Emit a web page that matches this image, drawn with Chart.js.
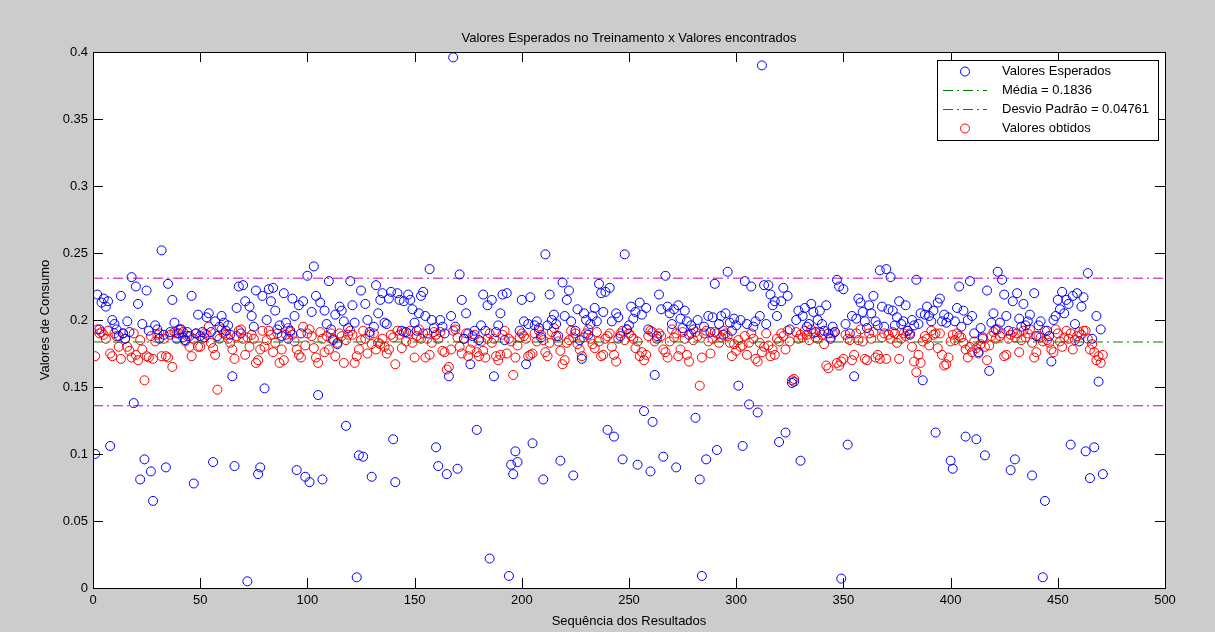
<!DOCTYPE html>
<html>
<head>
<meta charset="utf-8">
<script src="https://cdn.jsdelivr.net/npm/chart.js@4.4.1/dist/chart.umd.min.js"></script>
<style>
  html, body { margin: 0; padding: 0; background: #cccccc; }
  #wrap { width: 1215px; height: 632px; }
</style>
</head>
<body>
<div id="wrap"><canvas id="chart" width="1215" height="632"></canvas></div>
<script>
// valores (indice 1..471)
const esperados = [
  0.100, 0.219, 0.193, 0.213, 0.216, 0.210, 0.214, 0.106, 0.200, 0.197,
  0.193, 0.188, 0.218, 0.190, 0.186, 0.199, 0.191, 0.232, 0.138, 0.225,
  0.212, 0.081, 0.197, 0.096, 0.222, 0.192, 0.087, 0.065, 0.196, 0.193,
  0.186, 0.252, 0.189, 0.090, 0.227, 0.191, 0.215, 0.198, 0.186, 0.190,
  0.193, 0.187, 0.185, 0.191, 0.188, 0.218, 0.078, 0.190, 0.204, 0.188,
  0.191, 0.187, 0.202, 0.205, 0.191, 0.094, 0.199, 0.188, 0.195, 0.203,
  0.198, 0.192, 0.196, 0.189, 0.158, 0.091, 0.209, 0.225, 0.190, 0.226,
  0.214, 0.005, 0.210, 0.203, 0.195, 0.222, 0.085, 0.090, 0.218, 0.149,
  0.200, 0.223, 0.214, 0.224, 0.207, 0.193, 0.196, 0.188, 0.220, 0.198,
  0.186, 0.192, 0.216, 0.203, 0.088, 0.211, 0.190, 0.214, 0.083, 0.233,
  0.079, 0.206, 0.240, 0.218, 0.144, 0.213, 0.081, 0.207, 0.197, 0.229,
  0.193, 0.185, 0.204, 0.182, 0.210, 0.207, 0.199, 0.121, 0.194, 0.229,
  0.211, 0.198, 0.008, 0.099, 0.222, 0.098, 0.212, 0.200, 0.191, 0.083,
  0.195, 0.226, 0.205, 0.215, 0.220, 0.198, 0.197, 0.216, 0.221, 0.111,
  0.079, 0.220, 0.215, 0.192, 0.214, 0.191, 0.219, 0.215, 0.208, 0.198,
  0.192, 0.205, 0.218, 0.221, 0.203, 0.190, 0.238, 0.200, 0.194, 0.105,
  0.091, 0.200, 0.195, 0.190, 0.085, 0.158, 0.203, 0.396, 0.195, 0.089,
  0.234, 0.215, 0.186, 0.205, 0.190, 0.167, 0.188, 0.192, 0.118, 0.185,
  0.196, 0.219, 0.192, 0.211, 0.022, 0.215, 0.158, 0.191, 0.196, 0.205,
  0.219, 0.185, 0.220, 0.009, 0.092, 0.085, 0.102, 0.094, 0.192, 0.215,
  0.199, 0.167, 0.197, 0.217, 0.108, 0.196, 0.199, 0.194, 0.187, 0.081,
  0.249, 0.196, 0.219, 0.200, 0.204, 0.197, 0.188, 0.095, 0.228, 0.203,
  0.215, 0.222, 0.199, 0.084, 0.192, 0.208, 0.185, 0.171, 0.205, 0.200,
  0.189, 0.197, 0.203, 0.209, 0.199, 0.227, 0.220, 0.206, 0.221, 0.118,
  0.224, 0.199, 0.113, 0.205, 0.202, 0.188, 0.096, 0.249, 0.193, 0.196,
  0.210, 0.201, 0.206, 0.092, 0.213, 0.204, 0.132, 0.209, 0.193, 0.087,
  0.124, 0.159, 0.188, 0.219, 0.208, 0.098, 0.233, 0.210, 0.205, 0.197,
  0.208, 0.090, 0.211, 0.201, 0.194, 0.207, 0.199, 0.189, 0.196, 0.193,
  0.127, 0.200, 0.081, 0.009, 0.195, 0.096, 0.203, 0.191, 0.202, 0.227,
  0.103, 0.197, 0.203, 0.189, 0.205, 0.236, 0.198, 0.192, 0.201, 0.196,
  0.151, 0.200, 0.106, 0.229, 0.197, 0.137, 0.225, 0.195, 0.199, 0.131,
  0.203, 0.390, 0.226, 0.197, 0.226, 0.219, 0.211, 0.214, 0.203, 0.109,
  0.214, 0.224, 0.116, 0.218, 0.193, 0.153, 0.154, 0.200, 0.207, 0.095,
  0.203, 0.209, 0.195, 0.197, 0.212, 0.206, 0.191, 0.200, 0.207, 0.197,
  0.192, 0.211, 0.190, 0.186, 0.195, 0.191, 0.230, 0.225, 0.007, 0.223,
  0.197, 0.107, 0.190, 0.203, 0.158, 0.201, 0.216, 0.213, 0.206, 0.199,
  0.194, 0.211, 0.205, 0.218, 0.199, 0.196, 0.237, 0.210, 0.195, 0.238,
  0.208, 0.232, 0.207, 0.196, 0.202, 0.214, 0.197, 0.199, 0.211, 0.192,
  0.189, 0.200, 0.196, 0.230, 0.197, 0.205, 0.155, 0.204, 0.210, 0.203,
  0.199, 0.207, 0.116, 0.213, 0.216, 0.199, 0.204, 0.198, 0.202, 0.095,
  0.089, 0.199, 0.209, 0.225, 0.195, 0.207, 0.113, 0.200, 0.229, 0.203,
  0.190, 0.111, 0.176, 0.194, 0.187, 0.099, 0.222, 0.162, 0.198, 0.205,
  0.193, 0.236, 0.198, 0.230, 0.219, 0.203, 0.192, 0.088, 0.214, 0.096,
  0.220, 0.201, 0.195, 0.212, 0.196, 0.199, 0.204, 0.084, 0.220, 0.188,
  0.196, 0.199, 0.008, 0.065, 0.192, 0.188, 0.169, 0.200, 0.203, 0.215,
  0.208, 0.221, 0.205, 0.215, 0.212, 0.107, 0.218, 0.197, 0.220, 0.184,
  0.210, 0.217, 0.102, 0.235, 0.082, 0.186, 0.105, 0.203, 0.154, 0.193,
  0.085
];

const obtidos = [
  0.173, 0.193, 0.190, 0.191, 0.189, 0.186, 0.192, 0.175, 0.173, 0.190,
  0.188, 0.180, 0.171, 0.190, 0.186, 0.180, 0.177, 0.172, 0.190, 0.174,
  0.170, 0.185, 0.178, 0.155, 0.173, 0.172, 0.188, 0.171, 0.184, 0.189,
  0.190, 0.173, 0.186, 0.173, 0.172, 0.189, 0.165, 0.191, 0.190, 0.193,
  0.193, 0.191, 0.184, 0.188, 0.180, 0.173, 0.186, 0.190, 0.180, 0.180,
  0.186, 0.190, 0.189, 0.195, 0.183, 0.179, 0.174, 0.148, 0.186, 0.193,
  0.190, 0.189, 0.186, 0.183, 0.178, 0.171, 0.188, 0.192, 0.193, 0.186,
  0.174, 0.187, 0.180, 0.189, 0.186, 0.168, 0.170, 0.178, 0.192, 0.180,
  0.185, 0.192, 0.189, 0.176, 0.183, 0.190, 0.168, 0.178, 0.170, 0.189,
  0.194, 0.191, 0.189, 0.184, 0.178, 0.174, 0.172, 0.195, 0.181, 0.190,
  0.193, 0.188, 0.179, 0.172, 0.168, 0.191, 0.186, 0.176, 0.188, 0.178,
  0.190, 0.186, 0.173, 0.183, 0.190, 0.188, 0.168, 0.185, 0.189, 0.192,
  0.189, 0.168, 0.173, 0.178, 0.185, 0.192, 0.186, 0.175, 0.189, 0.182,
  0.190, 0.178, 0.183, 0.182, 0.186, 0.180, 0.175, 0.178, 0.189, 0.187,
  0.167, 0.192, 0.189, 0.179, 0.191, 0.184, 0.190, 0.192, 0.183, 0.172,
  0.188, 0.193, 0.186, 0.190, 0.172, 0.186, 0.174, 0.183, 0.191, 0.189,
  0.186, 0.191, 0.177, 0.176, 0.163, 0.165, 0.178, 0.192, 0.193, 0.187,
  0.180, 0.175, 0.186, 0.190, 0.173, 0.178, 0.183, 0.189, 0.176, 0.173,
  0.184, 0.177, 0.172, 0.186, 0.190, 0.183, 0.186, 0.173, 0.170, 0.174,
  0.189, 0.192, 0.175, 0.186, 0.184, 0.159, 0.172, 0.181, 0.187, 0.190,
  0.188, 0.186, 0.173, 0.174, 0.175, 0.190, 0.184, 0.192, 0.189, 0.185,
  0.176, 0.173, 0.183, 0.191, 0.194, 0.188, 0.184, 0.177, 0.167, 0.170,
  0.183, 0.185, 0.192, 0.187, 0.190, 0.182, 0.178, 0.173, 0.187, 0.190,
  0.193, 0.186, 0.182, 0.179, 0.191, 0.184, 0.173, 0.174, 0.186, 0.188,
  0.190, 0.180, 0.174, 0.169, 0.186, 0.190, 0.192, 0.185, 0.193, 0.190,
  0.188, 0.186, 0.179, 0.184, 0.173, 0.176, 0.170, 0.174, 0.188, 0.192,
  0.191, 0.184, 0.186, 0.190, 0.188, 0.178, 0.176, 0.172, 0.184, 0.193,
  0.187, 0.190, 0.173, 0.178, 0.191, 0.186, 0.174, 0.169, 0.190, 0.185,
  0.191, 0.188, 0.151, 0.172, 0.190, 0.192, 0.184, 0.175, 0.186, 0.191,
  0.190, 0.183, 0.187, 0.192, 0.190, 0.188, 0.183, 0.173, 0.182, 0.177,
  0.185, 0.180, 0.181, 0.188, 0.174, 0.183, 0.190, 0.186, 0.171, 0.169,
  0.183, 0.176, 0.180, 0.190, 0.181, 0.173, 0.178, 0.174, 0.186, 0.184,
  0.190, 0.188, 0.178, 0.192, 0.184, 0.155, 0.156, 0.191, 0.186, 0.189,
  0.187, 0.192, 0.189, 0.185, 0.193, 0.190, 0.187, 0.186, 0.191, 0.189,
  0.182, 0.166, 0.164, 0.187, 0.190, 0.191, 0.168, 0.166, 0.169, 0.171,
  0.189, 0.186, 0.185, 0.170, 0.174, 0.190, 0.185, 0.193, 0.184, 0.171,
  0.170, 0.190, 0.186, 0.191, 0.172, 0.174, 0.171, 0.187, 0.190, 0.171,
  0.189, 0.186, 0.191, 0.190, 0.183, 0.171, 0.186, 0.190, 0.188, 0.192,
  0.190, 0.180, 0.169, 0.161, 0.174, 0.168, 0.184, 0.188, 0.186, 0.181,
  0.192, 0.189, 0.190, 0.179, 0.190, 0.174, 0.166, 0.167, 0.172, 0.184,
  0.189, 0.185, 0.190, 0.188, 0.187, 0.183, 0.178, 0.172, 0.180, 0.176,
  0.184, 0.179, 0.175, 0.182, 0.186, 0.180, 0.170, 0.181, 0.188, 0.191,
  0.186, 0.193, 0.188, 0.190, 0.173, 0.174, 0.186, 0.189, 0.191, 0.187,
  0.190, 0.176, 0.185, 0.192, 0.187, 0.190, 0.193, 0.183, 0.172, 0.176,
  0.188, 0.187, 0.184, 0.192, 0.185, 0.183, 0.178, 0.176, 0.193, 0.190,
  0.184, 0.180, 0.187, 0.192, 0.186, 0.190, 0.178, 0.185, 0.188, 0.191,
  0.189, 0.192, 0.192, 0.186, 0.178, 0.182, 0.176, 0.170, 0.173, 0.168,
  0.174
];

const media = 0.1836;
const desvio = 0.04761;
const xMin = 0, xMax = 500, xStep = 50;
const yMin = 0, yMax = 0.4, yStep = 0.05;

const titulo = 'Valores Esperados no Treinamento x Valores encontrados';
const fonte = 'Arial, "Liberation Sans", sans-serif';

const toPoints = arr => arr.map((v, i) => ({ x: i + 1, y: v }));

// fundo branco, moldura e marcas de escala para dentro (estilo MATLAB)
const moldura = {
  id: 'moldura',
  beforeDraw(chart) {
    const { ctx, chartArea: a } = chart;
    ctx.save();
    ctx.fillStyle = '#ffffff';
    ctx.fillRect(a.left, a.top, a.right - a.left, a.bottom - a.top);
    ctx.restore();
  },
  afterDatasetsDraw(chart) {
    const { ctx, chartArea: a, scales } = chart;
    const len = 10;
    ctx.save();
    ctx.strokeStyle = '#000000';
    ctx.lineWidth = 1;
    ctx.beginPath();
    scales.x.ticks.forEach(t => {
      const px = Math.round(scales.x.getPixelForValue(t.value)) + 0.5;
      ctx.moveTo(px, a.bottom); ctx.lineTo(px, a.bottom - len);
      ctx.moveTo(px, a.top); ctx.lineTo(px, a.top + len);
    });
    scales.y.ticks.forEach(t => {
      const py = Math.round(scales.y.getPixelForValue(t.value)) + 0.5;
      ctx.moveTo(a.left, py); ctx.lineTo(a.left + len, py);
      ctx.moveTo(a.right, py); ctx.lineTo(a.right - len, py);
    });
    ctx.stroke();
    ctx.strokeRect(Math.round(a.left) + 0.5, Math.round(a.top) + 0.5,
      Math.round(a.right - a.left), Math.round(a.bottom - a.top));

    ctx.fillStyle = '#000000';
    ctx.font = '13px ' + fonte;
    ctx.textAlign = 'center';
    ctx.textBaseline = 'middle';
    ctx.fillText(titulo, (a.left + a.right) / 2, a.top - 14);
    ctx.restore();
  },
  afterDraw(chart) {
    // legenda dentro do grafico, canto superior direito
    const { ctx } = chart;
    const box = { x: 937, y: 60, w: 221, h: 80 };
    ctx.save();
    ctx.fillStyle = '#ffffff';
    ctx.fillRect(box.x, box.y, box.w, box.h);
    ctx.strokeStyle = '#000000';
    ctx.lineWidth = 1;
    ctx.strokeRect(box.x + 0.5, box.y + 0.5, box.w, box.h);
    ctx.font = '13px ' + fonte;
    ctx.textBaseline = 'middle';
    ctx.textAlign = 'left';
    const ds = chart.data.datasets;
    ds.forEach((d, i) => {
      const y = box.y + 11.5 + i * 19;
      const cx = box.x + 28;
      if (d.showLine === false) {
        ctx.beginPath();
        ctx.strokeStyle = d.borderColor;
        ctx.setLineDash([]);
        ctx.arc(cx, y, 4.5, 0, Math.PI * 2);
        ctx.stroke();
      } else {
        ctx.beginPath();
        ctx.strokeStyle = d.borderColor;
        ctx.setLineDash(d.borderDash);
        ctx.moveTo(box.x + 6, y);
        ctx.lineTo(box.x + 50, y);
        ctx.stroke();
        ctx.setLineDash([]);
      }
      ctx.fillStyle = '#000000';
      ctx.fillText(d.label, box.x + 65, y);
    });
    ctx.restore();
  }
};

const traco = [10, 4, 2, 4];
const rotulo = v => String(Number(v.toFixed(2)));

new Chart(document.getElementById('chart'), {
  type: 'scatter',
  data: {
    datasets: [
      {
        label: 'Valores Esperados',
        data: toPoints(esperados),
        showLine: false,
        borderColor: '#0000ff',
        backgroundColor: 'rgba(0,0,0,0)',
        borderWidth: 1,
        pointRadius: 4.5
      },
      {
        label: 'Média = ' + media,
        type: 'line',
        data: [{ x: xMin, y: media }, { x: xMax, y: media }],
        borderColor: '#008000',
        borderWidth: 1,
        borderDash: traco,
        pointRadius: 0,
        fill: false
      },
      {
        label: 'Desvio Padrão = ' + desvio,
        type: 'line',
        data: [
          { x: xMin, y: media + desvio }, { x: xMax, y: media + desvio },
          { x: xMax, y: null },
          { x: xMin, y: media - desvio }, { x: xMax, y: media - desvio }
        ],
        borderColor: '#bf00bf',
        borderWidth: 1,
        borderDash: traco,
        pointRadius: 0,
        spanGaps: false,
        fill: false
      },
      {
        label: 'Valores obtidos',
        data: toPoints(obtidos),
        showLine: false,
        borderColor: '#ff0000',
        backgroundColor: 'rgba(0,0,0,0)',
        borderWidth: 1,
        pointRadius: 4.5
      }
    ]
  },
  options: {
    responsive: false,
    animation: false,
    events: [],
    layout: { padding: { left: 0, right: 50, top: 52, bottom: 0 } },
    plugins: {
      legend: { display: false },
      title: { display: false },
      tooltip: { enabled: false }
    },
    scales: {
      x: {
        type: 'linear',
        min: xMin,
        max: xMax,
        grid: { display: false, drawTicks: false },
        border: { display: false },
        afterFit: s => { s.height = 44; },
        ticks: {
          stepSize: xStep,
          color: '#000000',
          padding: 5,
          font: { family: fonte, size: 13 }
        },
        title: {
          display: true,
          text: 'Sequência dos Resultados',
          color: '#000000',
          padding: { top: 0, bottom: 3 },
          font: { family: fonte, size: 13 }
        }
      },
      y: {
        type: 'linear',
        min: yMin,
        max: yMax,
        grid: { display: false, drawTicks: false },
        border: { display: false },
        afterFit: s => { s.width = 93; },
        ticks: {
          stepSize: yStep,
          color: '#000000',
          padding: 5,
          font: { family: fonte, size: 13 },
          callback: v => rotulo(v)
        },
        title: {
          display: true,
          text: 'Valores de Consumo',
          color: '#000000',
          padding: { top: 38, bottom: 0 },
          font: { family: fonte, size: 13 }
        }
      }
    }
  },
  plugins: [moldura]
});
</script>
</body>
</html>
